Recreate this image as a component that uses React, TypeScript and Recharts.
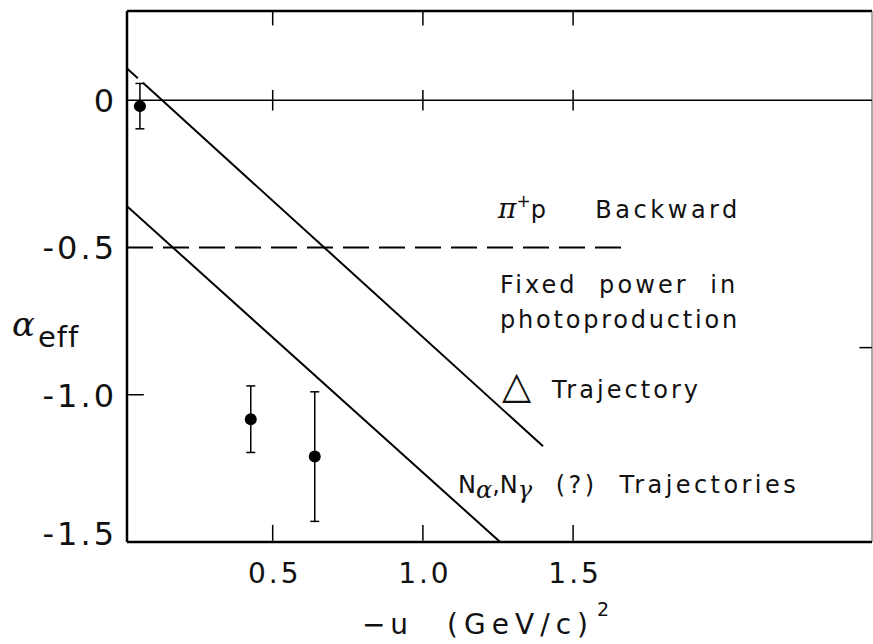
import React from 'react';
import {
  ComposedChart,
  Line,
  Scatter,
  ErrorBar,
  XAxis,
  YAxis,
  ReferenceLine,
  ReferenceDot,
} from 'recharts';

// -u in (GeV/c)^2 on x, alpha_eff on y
const xTicks = [0.5, 1.0, 1.5];
const yTicks = [0, -0.5, -1.0, -1.5];
const xTickLabels = ['0.5', '1.0', '1.5'];
const yTickLabels = ['0', '-0.5', '-1.0', '-1.5'];

// Delta trajectory (small break where it passes the first error bar)
const deltaTrajA = [
  { u: 0.015, a: 0.108 },
  { u: 0.051, a: 0.075 },
];
const deltaTrajB = [
  { u: 0.068, a: 0.059 },
  { u: 1.4, a: -1.175 },
];
// N_alpha, N_gamma trajectories
const nTraj = [
  { u: 0.015, a: -0.36 },
  { u: 1.257, a: -1.5 },
];
// fixed power in photoproduction
const fixedPower = [
  { u: 0.015, a: -0.5 },
  { u: 1.678, a: -0.5 },
];
// pi+ p backward measurements
const measurements = [
  { u: 0.058, a: -0.02, err: 0.077 },
  { u: 0.427, a: -1.083, err: 0.113 },
  { u: 0.64, a: -1.21, err: 0.22 },
];

const X_MIN = 0.015;
const X_MAX = 2.495;
const Y_MIN = -1.5;
const Y_MAX = 0.303;

// inward tick marks, drawn as bare error bars centred on each mark
const bottomMarks = xTicks.map((t) => ({ u: t, a: -1.469, err: 0.027 }));
const topMarks = xTicks.map((t) => ({ u: t, a: 0.277, err: 0.023 }));
const zeroCrosses = xTicks.map((t) => ({ u: t, a: 0, err: 0.035 }));
const leftMark = [{ u: 0.045, a: -1.0, err: 0.026 }];
const rightMark = [{ u: X_MAX - 0.021, a: -0.84, err: 0.021 }];

const FONT = '"DejaVu Sans", sans-serif';
const INK = '#111';

const YTick = (props: any) => {
  const { x, y, payload } = props;
  const i = yTicks.indexOf(payload.value);
  const lift = payload.value === -1.5 ? -9 : 0;
  return (
    <text x={x - 10} y={y + 12 + lift} textAnchor="end" fontSize={32} letterSpacing={3} fontFamily={FONT} fill={INK}>
      {yTickLabels[i]}
    </text>
  );
};

const XTick = (props: any) => {
  const { x, y, payload } = props;
  const i = xTicks.indexOf(payload.value);
  return (
    <text x={x + 2} y={y + 41} textAnchor="middle" fontSize={28} letterSpacing={3} fontFamily={FONT} fill={INK}>
      {xTickLabels[i]}
    </text>
  );
};

const note = (content: React.ReactNode, len?: number, size = 24) => (p: any) => (
  <text
    x={p.cx}
    y={p.cy}
    fontSize={size}
    fontFamily={FONT}
    fill={INK}
    style={{ whiteSpace: 'pre' }}
    textLength={len}
    lengthAdjust={len ? 'spacing' : undefined}
  >
    {content}
  </text>
);

const YLabel = (props: any) => {
  const { viewBox } = props;
  const x = viewBox.x;
  const y = viewBox.y;
  return (
    <g>
      <text x={x + 12} y={y + 325} fontSize={34} fontFamily='"DejaVu Serif", serif' fontStyle="italic" fill={INK}>
        α
      </text>
      <text x={x + 38} y={y + 336} fontSize={29} fontFamily={FONT} letterSpacing={1} fill={INK}>
        eff
      </text>
    </g>
  );
};

const XLabel = (props: any) => {
  const { viewBox } = props;
  const x = viewBox.x;
  const y = viewBox.y;
  return (
    <g fontFamily={FONT} fill={INK}>
      <text x={x + 235} y={y + 92} fontSize={28} textLength={46} lengthAdjust="spacing">
        −u
      </text>
      <text x={x + 320} y={y + 92} fontSize={28} textLength={141} lengthAdjust="spacing">
        (GeV/c)
      </text>
      <text x={x + 470} y={y + 74} fontSize={19}>
        2
      </text>
    </g>
  );
};

const Dot = (p: any) => <circle cx={p.cx} cy={p.cy} r={6} fill="#000" />;
const NoDot = () => <g />;

export default function App() {
  return (
    <div style={{ position: 'absolute', left: 0, top: 0, background: '#fff' }}>
      <ComposedChart width={873} height={644} margin={{ top: 11, right: 1, bottom: 0, left: 0 }}>
        <XAxis
          dataKey="u"
          type="number"
          domain={[X_MIN, X_MAX]}
          ticks={xTicks}
          tick={<XTick />}
          tickLine={false}
          tickSize={0}
          tickMargin={0}
          height={102}
          axisLine={{ stroke: '#000', strokeWidth: 2.5 }}
          allowDataOverflow
          label={{ content: <XLabel /> }}
        />
        <YAxis
          type="number"
          domain={[Y_MIN, Y_MAX]}
          ticks={yTicks}
          tick={<YTick />}
          tickLine={false}
          tickSize={0}
          tickMargin={0}
          width={127}
          axisLine={{ stroke: '#000', strokeWidth: 2.5 }}
          allowDataOverflow
          label={{ content: <YLabel /> }}
        />

        {/* frame: top and right, plus the zero line */}
        <ReferenceLine y={Y_MAX} stroke="#000" strokeWidth={2.5} ifOverflow="visible" />
        <ReferenceLine x={X_MAX} stroke="#555" strokeWidth={1} ifOverflow="visible" />
        <ReferenceLine y={0} stroke="#000" strokeWidth={1.5} />

        <Scatter data={zeroCrosses} dataKey="a" shape={<NoDot />} isAnimationActive={false}>
          <ErrorBar dataKey="err" direction="y" width={0} stroke="#000" strokeWidth={1.5} isAnimationActive={false} />
        </Scatter>
        <Scatter data={rightMark} dataKey="a" shape={<NoDot />} isAnimationActive={false}>
          <ErrorBar dataKey="err" direction="x" width={0} stroke="#000" strokeWidth={1.5} isAnimationActive={false} />
        </Scatter>
        <Scatter data={bottomMarks} dataKey="a" shape={<NoDot />} isAnimationActive={false}>
          <ErrorBar dataKey="err" direction="y" width={0} stroke="#000" strokeWidth={1.5} isAnimationActive={false} />
        </Scatter>
        <Scatter data={topMarks} dataKey="a" shape={<NoDot />} isAnimationActive={false}>
          <ErrorBar dataKey="err" direction="y" width={0} stroke="#000" strokeWidth={1.5} isAnimationActive={false} />
        </Scatter>
        <Scatter data={leftMark} dataKey="a" shape={<NoDot />} isAnimationActive={false}>
          <ErrorBar dataKey="err" direction="x" width={0} stroke="#000" strokeWidth={1.5} isAnimationActive={false} />
        </Scatter>

        <Line data={fixedPower} dataKey="a" type="linear" dot={false} stroke="#000" strokeWidth={2} strokeDasharray="26 10" isAnimationActive={false} />
        <Line data={deltaTrajA} dataKey="a" type="linear" dot={false} stroke="#000" strokeWidth={2} isAnimationActive={false} />
        <Line data={deltaTrajB} dataKey="a" type="linear" dot={false} stroke="#000" strokeWidth={2} isAnimationActive={false} />
        <Line data={nTraj} dataKey="a" type="linear" dot={false} stroke="#000" strokeWidth={2} isAnimationActive={false} />

        <Scatter data={measurements} dataKey="a" shape={<Dot />} isAnimationActive={false}>
          <ErrorBar dataKey="err" direction="y" width={4.5} stroke="#000" strokeWidth={1.5} isAnimationActive={false} />
        </Scatter>

        {/* annotations */}
        <ReferenceDot
          x={1.25}
          y={-0.401}
          r={0}
          shape={note(
            <>
              <tspan fontFamily='"DejaVu Serif", serif' fontStyle="italic" fontSize={28}>π</tspan>
              <tspan fontSize={17} dy={-11}>+</tspan>
              <tspan dy={11}>p</tspan>
            </>
          )}
        />
        <ReferenceDot x={1.574} y={-0.401} r={0} shape={note('Backward', 142)} />
        <ReferenceDot x={1.257} y={-0.656} r={0} shape={note('Fixed  power  in', 235)} />
        <ReferenceDot x={1.257} y={-0.772} r={0} shape={note('photoproduction', 237)} />
        <ReferenceDot x={1.263} y={-1.01} r={0} shape={note('△', undefined, 38)} />
        <ReferenceDot x={1.43} y={-1.01} r={0} shape={note('Trajectory', 146)} />
        <ReferenceDot
          x={1.117}
          y={-1.333}
          r={0}
          shape={note(
            <>
              N<tspan fontFamily='"DejaVu Serif", serif' fontStyle="italic" dy={5}>α</tspan>
              <tspan dy={-5}>,N</tspan>
              <tspan fontFamily='"DejaVu Serif", serif' fontStyle="italic" dy={5}>γ</tspan>
            </>
          )}
        />
        <ReferenceDot x={1.442} y={-1.333} r={0} shape={note('(?)  Trajectories', 240)} />
      </ComposedChart>
    </div>
  );
}
